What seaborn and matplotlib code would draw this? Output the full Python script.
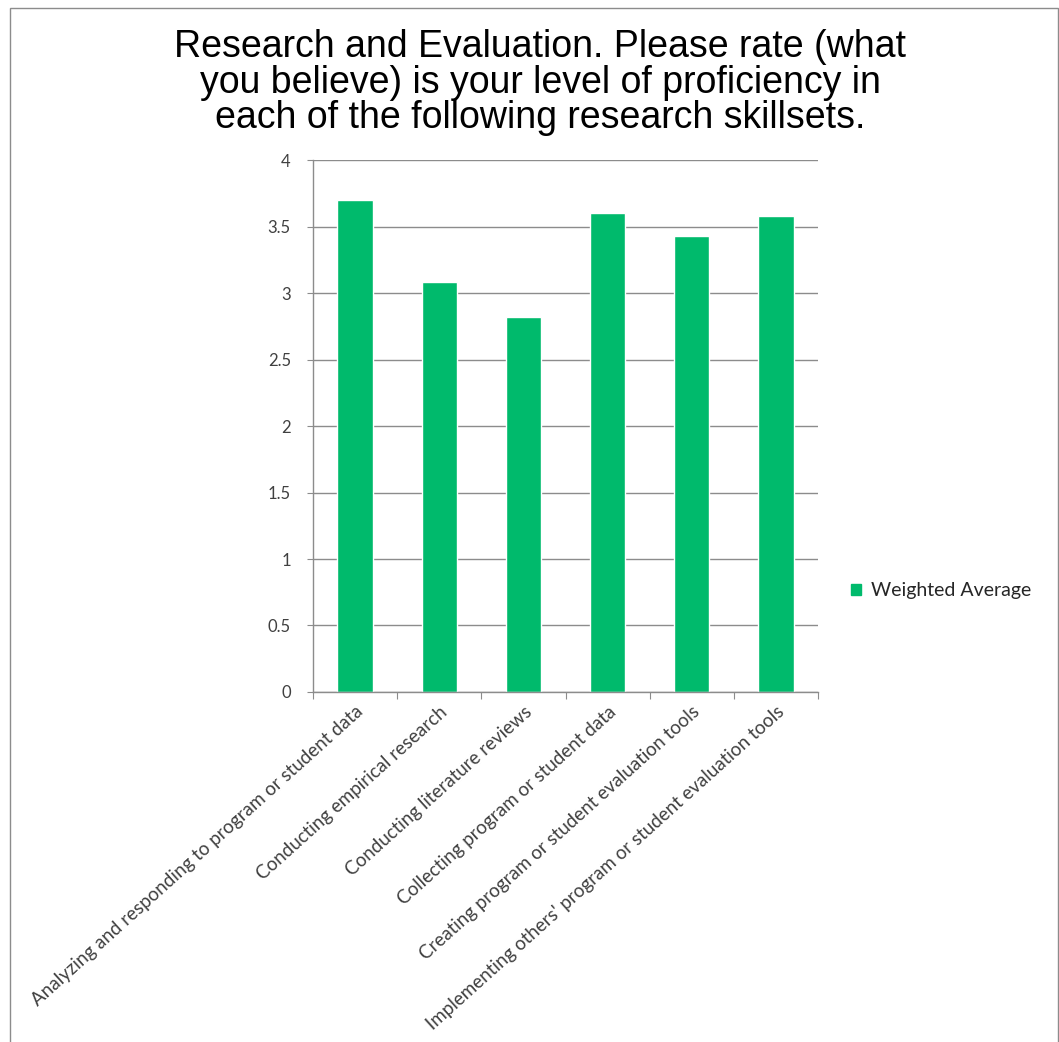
import seaborn as sns
import matplotlib.pyplot as plt
import pandas as pd
from matplotlib.patches import Rectangle, Patch

# data
skills = [
    "Analyzing and responding to program or student data",
    "Conducting empirical research",
    "Conducting literature reviews",
    "Collecting program or student data",
    "Creating program or student evaluation tools",
    "Implementing others' program or student evaluation tools",
]
weighted_avg = [3.70, 3.08, 2.82, 3.60, 3.43, 3.58]
yticks = [0, 0.5, 1, 1.5, 2, 2.5, 3, 3.5, 4]
ytick_labels = ["0", "0.5", "1", "1.5", "2", "2.5", "3", "3.5", "4"]

df = pd.DataFrame({"skill": skills, "value": weighted_avg})

sns.set_style("white")
plt.rcParams["font.family"] = ["Lato", "DejaVu Sans"]

fig = plt.figure(figsize=(10.59, 10.42), dpi=100)
ax = fig.add_axes([0.2956, 0.3359, 0.4768, 0.5105])

green = "#00BA6C"
sns.barplot(data=df, x="skill", y="value", color=green, width=0.42,
            saturation=1, ax=ax)

ax.set_ylim(0, 4)
ax.set_xlim(-0.5, 5.5)
ax.set_yticks(yticks)
ax.set_yticklabels(ytick_labels, fontsize=12, color="#404040")
ax.yaxis.grid(True, color="#8c8c8c", linewidth=1)
ax.set_axisbelow(True)
ax.set_xlabel("")
ax.set_ylabel("")

for s in ["top", "right"]:
    ax.spines[s].set_visible(False)
for s in ["left", "bottom"]:
    ax.spines[s].set_color("#8c8c8c")
    ax.spines[s].set_linewidth(1)

# x ticks at category borders, labels at centres
ax.set_xticks([i - 0.5 for i in range(7)], minor=False)
ax.set_xticklabels([])
ax.set_xticks(range(6), minor=True)
ax.set_xticklabels(skills, minor=True, rotation=42, ha="right",
                   rotation_mode="anchor", fontsize=13.5, color="#404040")
ax.tick_params(axis="x", which="major", length=5, color="#8c8c8c",
               direction="out", bottom=True)
ax.tick_params(axis="x", which="minor", length=0, pad=8)
ax.tick_params(axis="y", length=4, color="#8c8c8c", direction="out",
               left=True, pad=12)

fig.suptitle("Research and Evaluation. Please rate (what\n"
             "you believe) is your level of proficiency in\n"
             "each of the following research skillsets.",
             x=0.51, y=0.972, fontsize=27, family="Liberation Sans",
             linespacing=0.98, color="black")

ax.legend(handles=[Patch(color=green, label="Weighted Average")],
          loc="center left", bbox_to_anchor=(1.03, 0.19), frameon=False,
          fontsize=14, handlelength=0.55, handleheight=0.55,
          handletextpad=0.5)

fig.patches.append(Rectangle((0.009, -0.01), 0.99, 1.002,
                             transform=fig.transFigure, fill=False,
                             edgecolor="#8c8c8c", linewidth=1))

fig.savefig("out.png", dpi=100)
